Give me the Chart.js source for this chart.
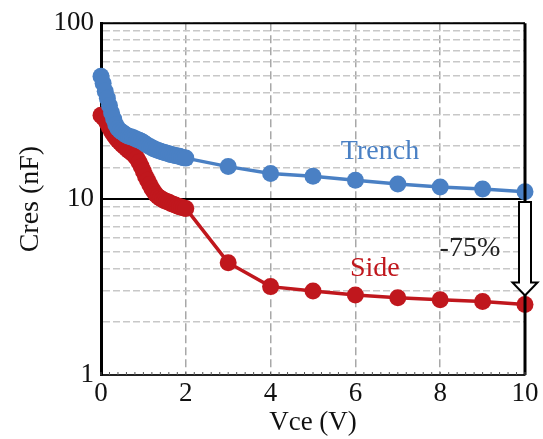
<!DOCTYPE html>
<html>
<head>
<meta charset="utf-8">
<script src="https://cdn.jsdelivr.net/npm/chart.js@4"></script>
<style>
  html, body { margin: 0; padding: 0; background: #fff; }
  #wrap { width: 543px; height: 439px; }
</style>
</head>
<body>
<div id="wrap"><canvas id="chart"></canvas></div>
<script>
// Vce (V) sample points: dense sweep to 2 V, then 1 V steps
const vce = [0, 0.05, 0.1, 0.15, 0.2, 0.25, 0.3, 0.35, 0.4, 0.45, 0.5,
             0.55, 0.6, 0.65, 0.7, 0.75, 0.8, 0.85, 0.9, 0.95, 1.0,
             1.05, 1.1, 1.15, 1.2, 1.25, 1.3, 1.35, 1.4, 1.45, 1.5,
             1.55, 1.6, 1.65, 1.7, 1.75, 1.8, 1.85, 1.9, 1.95, 2.0,
             3, 4, 5, 6, 7, 8, 9, 10];

// Cres (nF)
const trench = [50, 45.5, 41, 37.5, 34, 31, 28.5, 26.5, 25.2, 24.5, 24,
                23.5, 23.1, 22.8, 22.6, 22.4, 22.1, 21.8, 21.6, 21.3, 21,
                20.6, 20.2, 19.9, 19.6, 19.3, 19.1, 18.9, 18.7, 18.5, 18.4,
                18.2, 18.1, 17.9, 17.8, 17.7, 17.6, 17.5, 17.3, 17.2, 17.1,
                15.3, 14.0, 13.5, 12.8, 12.2, 11.7, 11.4, 11.0];
const side = [30, 29.2, 28.3, 27, 25.5, 24.2, 23.2, 22.3, 21.6, 21, 20.4,
              19.9, 19.4, 18.9, 18.5, 18.1, 17.6, 17.0, 16.2, 15.3, 14.4,
              13.5, 12.8, 12.1, 11.5, 11.0, 10.6, 10.3, 10.1, 9.95, 9.8,
              9.7, 9.6, 9.45, 9.35, 9.25, 9.15, 9.05, 9.0, 8.9, 8.85,
              4.35, 3.18, 3.0, 2.85, 2.75, 2.68, 2.62, 2.52];

const yLabels = [1, 10, 100];

const BLUE = "#4a80c4";
const RED = "#c0171d";
const FONT = "'Liberation Serif', 'Times New Roman', serif";

const toXY = (ys) => vce.map((x, i) => ({ x: x, y: ys[i] }));

const extras = {
  id: "extras",
  afterDatasetsDraw(chart) {
    const { ctx, chartArea: a, scales } = chart;
    const xs = scales.x, ys = scales.y;
    ctx.save();

    // top and right frame
    ctx.strokeStyle = "#000";
    ctx.lineWidth = 2;
    ctx.beginPath();
    ctx.moveTo(a.left, a.top);
    ctx.lineTo(a.right, a.top);
    ctx.stroke();
    ctx.lineWidth = 3;
    ctx.beginPath();
    ctx.moveTo(a.right, a.top);
    ctx.lineTo(a.right, a.bottom);
    ctx.stroke();

    // small ticks along bottom
    ctx.lineWidth = 1;
    ctx.strokeStyle = "#555";
    for (let v = 0; v <= 10.001; v += 0.2) {
      const px = xs.getPixelForValue(v);
      ctx.beginPath();
      ctx.moveTo(px, a.bottom);
      ctx.lineTo(px, a.bottom - 3);
      ctx.stroke();
    }

    // hollow arrow -75%
    const ax = xs.getPixelForValue(10);
    const y0 = ys.getPixelForValue(10) + 3;
    const tip = ys.getPixelForValue(2.83);
    const head = tip - 13;
    ctx.beginPath();
    ctx.moveTo(ax - 6, y0);
    ctx.lineTo(ax + 6, y0);
    ctx.lineTo(ax + 6, head);
    ctx.lineTo(ax + 12.5, head);
    ctx.lineTo(ax, tip);
    ctx.lineTo(ax - 12.5, head);
    ctx.lineTo(ax - 6, head);
    ctx.closePath();
    ctx.fillStyle = "#fff";
    ctx.fill();
    ctx.lineWidth = 2;
    ctx.strokeStyle = "#000";
    ctx.stroke();

    // labels
    ctx.font = "28px " + FONT;
    ctx.textAlign = "center";
    ctx.textBaseline = "middle";
    ctx.fillStyle = BLUE;
    ctx.fillText("Trench", xs.getPixelForValue(6.58), ys.getPixelForValue(18.7));
    ctx.fillStyle = RED;
    ctx.fillText("Side", xs.getPixelForValue(6.46), ys.getPixelForValue(4.03));
    ctx.fillStyle = "#222";
    ctx.fillText("-75%", xs.getPixelForValue(8.7), ys.getPixelForValue(5.2));
    ctx.restore();
  }
};

const config = {
  type: "line",
  data: {
    datasets: [
      {
        label: "Trench",
        data: toXY(trench),
        borderColor: BLUE,
        backgroundColor: BLUE,
        borderWidth: 3.5,
        pointRadius: 8.5,
        pointBorderWidth: 0,
        tension: 0,
        clip: false,
      },
      {
        label: "Side",
        data: toXY(side),
        borderColor: RED,
        backgroundColor: RED,
        borderWidth: 3.5,
        pointRadius: 8.5,
        pointBorderWidth: 0,
        tension: 0,
        clip: false,
      },
    ],
  },
  options: {
    responsive: true,
    maintainAspectRatio: false,
    animation: false,
    devicePixelRatio: 1,
    layout: { padding: { top: 21, right: 18, left: 0, bottom: 0 } },
    plugins: {
      legend: { display: false },
      tooltip: { enabled: false },
    },
    scales: {
      x: {
        type: "linear",
        min: 0,
        max: 10,
        ticks: {
          stepSize: 2,
          color: "#111",
          font: { family: FONT, size: 27 },
          padding: 3,
        },
        grid: {
          drawTicks: false,
          color: (c) => (c.tick && c.tick.value > 0 && c.tick.value < 10) ? "#a8a8a8" : "rgba(0,0,0,0)",
          lineWidth: 1.5,
        },
        border: {
          color: "#222",
          width: 2,
          dash: (c) => (c.tick && c.tick.value > 0 && c.tick.value < 10) ? [8, 4] : [],
        },
        title: {
          display: true,
          text: "Vce (V)",
          color: "#111",
          font: { family: FONT, size: 27 },
          padding: { top: 0, bottom: 0 },
        },
        afterFit: (s) => { s.height = 64; },
      },
      y: {
        type: "logarithmic",
        min: 1,
        max: 100,
        ticks: {
          autoSkip: false,
          color: "#111",
          font: { family: FONT, size: 27 },
          padding: 7,
          callback: (v) => yLabels.includes(v) ? String(v) : "",
        },
        grid: {
          drawTicks: false,
          color: (c) => (c.tick && c.tick.value === 10) ? "#000" : "#c8c8c8",
          lineWidth: (c) => (c.tick && c.tick.value === 10) ? 2 : 1.5,
        },
        border: {
          color: "#000",
          width: 3,
          dash: (c) => (c.tick && c.tick.value !== 10) ? [7, 3] : [],
        },
        title: {
          display: true,
          text: "Cres (nF)",
          color: "#111",
          font: { family: FONT, size: 28 },
          padding: { top: 14, bottom: 4 },
        },
        afterFit: (s) => { s.width = 101; },
      },
    },
  },
  plugins: [extras],
};

const myChart = new Chart(document.getElementById("chart"), config);
</script>
</body>
</html>
